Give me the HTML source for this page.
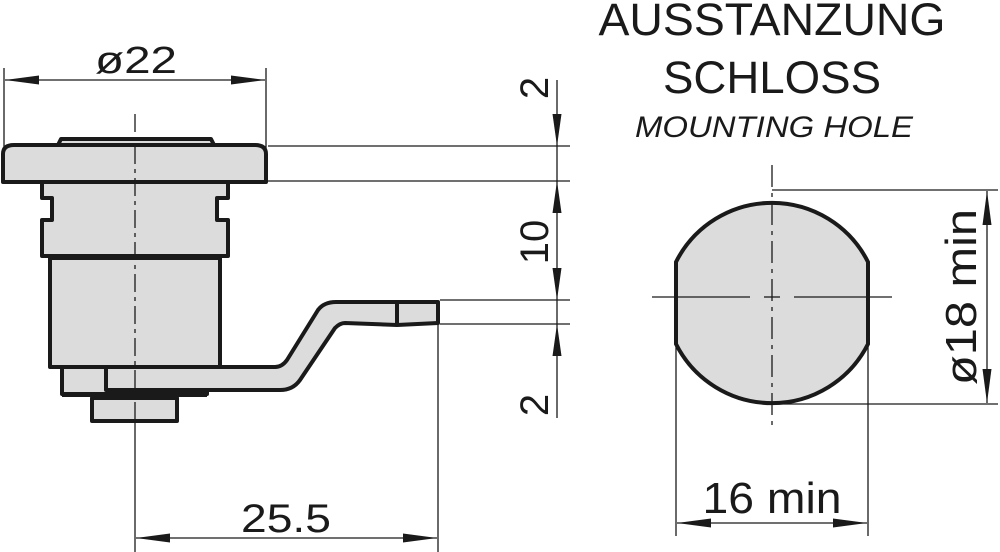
<!DOCTYPE html>
<html><head><meta charset="utf-8"><style>html,body{margin:0;padding:0;background:#fff}svg{display:block}</style></head>
<body>
<svg width="1000" height="552" viewBox="0 0 1000 552" xmlns="http://www.w3.org/2000/svg" font-family="Liberation Sans, sans-serif" fill="#1a1a1a">
<g stroke="#1a1a1a" stroke-width="1.3" fill="none">
<line x1="4" y1="68" x2="4" y2="148"/>
<line x1="266" y1="68" x2="266" y2="148"/>
<line x1="5" y1="80" x2="265" y2="80"/>
<line x1="268" y1="146" x2="570" y2="146"/>
<line x1="268" y1="181" x2="570" y2="181"/>
<line x1="440" y1="300" x2="570" y2="300"/>
<line x1="440" y1="324" x2="570" y2="324"/>
<line x1="557" y1="80" x2="557" y2="418"/>
<line x1="135" y1="420" x2="135" y2="552"/>
<line x1="438" y1="322" x2="438" y2="552"/>
<line x1="136" y1="538" x2="437" y2="538"/>
<line x1="772" y1="190" x2="998" y2="190"/>
<line x1="772" y1="404" x2="998" y2="404"/>
<line x1="987" y1="191" x2="987" y2="403"/>
<line x1="676" y1="345" x2="676" y2="536"/>
<line x1="868" y1="345" x2="868" y2="536"/>
<line x1="677" y1="523" x2="867" y2="523"/>
</g>
<g fill="#1a1a1a">
<!-- ø22 arrows -->
<polygon points="5,80 39,75.5 39,84.5"/>
<polygon points="265,80 231,75.5 231,84.5"/>
<!-- vertical dims -->
<polygon points="557,146 552.5,114 561.5,114"/>
<polygon points="557,181 552.5,213 561.5,213"/>
<polygon points="557,300 552.5,268 561.5,268"/>
<polygon points="557,324 552.5,356 561.5,356"/>
<!-- 25.5 -->
<polygon points="136,538 170,533.5 170,542.5"/>
<polygon points="437,538 403,533.5 403,542.5"/>
<!-- ø18 -->
<polygon points="987,191 982.5,225 991.5,225"/>
<polygon points="987,403 982.5,369 991.5,369"/>
<!-- 16 -->
<polygon points="677,523 711,518.5 711,527.5"/>
<polygon points="867,523 833,518.5 833,527.5"/>
</g>
<g stroke="#1a1a1a" stroke-width="4" fill="#dcdcdc" stroke-linejoin="round">
<path d="M58,145 L61,139 L211,139 L214,145 Z"/>
<path d="M3,182 L3,154 Q3,145 14,145 L255,145 Q266,145 266,154 L266,182 Z"/>
<path d="M42,182 L42,198 L52,198 L52,220 L42,220 L42,256 L228,256 L228,220 L217,220 L217,198 L228,198 L228,182 Z"/>
<path d="M50,258 L50,367 L220,367 L220,258 Z"/>
<path d="M62,367 L62,394 L207,394 L207,367 Z"/>
<path d="M92,398 L92,421 L177,421 L177,398 Z"/>
<path d="M106,367 L275,367 Q282,367 287,360 L318,310 Q324,302 336,302 L438,302 L438,323 L397,325 L345,323 Q340,323 335,328 L300,380 Q293,390 280,390 L106,390 Z"/>
<line x1="397" y1="303" x2="397" y2="325"/>
<line x1="106" y1="367" x2="106" y2="390"/>
<line x1="62" y1="396" x2="207" y2="396" stroke-width="2"/>
</g>
<line x1="135" y1="114" x2="135" y2="420" stroke="#1a1a1a" stroke-width="1.3" stroke-dasharray="18,5,4,5"/>
<path d="M676,262 A107.5,107.5 0 0 1 868,262 L868,344 A107.5,107.5 0 0 1 676,344 Z" fill="#dcdcdc" stroke="#1a1a1a" stroke-width="4"/>
<g stroke="#1a1a1a" stroke-width="1.3">
<line x1="652" y1="297" x2="750" y2="297"/>
<line x1="764" y1="297" x2="780" y2="297"/>
<line x1="794" y1="297" x2="892" y2="297"/>
<line x1="772" y1="165" x2="772" y2="430" stroke-dasharray="22,6,4,6"/>
</g>
<text x="136" y="73" font-size="38" text-anchor="middle" textLength="82" lengthAdjust="spacingAndGlyphs">ø22</text>
<text x="286" y="532" font-size="40" text-anchor="middle" textLength="90" lengthAdjust="spacingAndGlyphs">25.5</text>
<text x="772" y="513" font-size="44" text-anchor="middle" textLength="139" lengthAdjust="spacingAndGlyphs">16 min</text>
<text x="772" y="35" font-size="45" text-anchor="middle" textLength="347" lengthAdjust="spacingAndGlyphs">AUSSTANZUNG</text>
<text x="772" y="93" font-size="45" text-anchor="middle" textLength="218" lengthAdjust="spacingAndGlyphs">SCHLOSS</text>
<text x="774" y="137" font-size="30" font-style="italic" text-anchor="middle" textLength="278" lengthAdjust="spacingAndGlyphs">MOUNTING HOLE</text>
<text transform="translate(548,88) rotate(-90)" font-size="40" text-anchor="middle">2</text>
<text transform="translate(548,242) rotate(-90)" font-size="40" text-anchor="middle">10</text>
<text transform="translate(548,405) rotate(-90)" font-size="40" text-anchor="middle">2</text>
<text transform="translate(976,297) rotate(-90)" font-size="44" text-anchor="middle" textLength="176" lengthAdjust="spacingAndGlyphs">ø18 min</text>
</svg>
</body></html>
